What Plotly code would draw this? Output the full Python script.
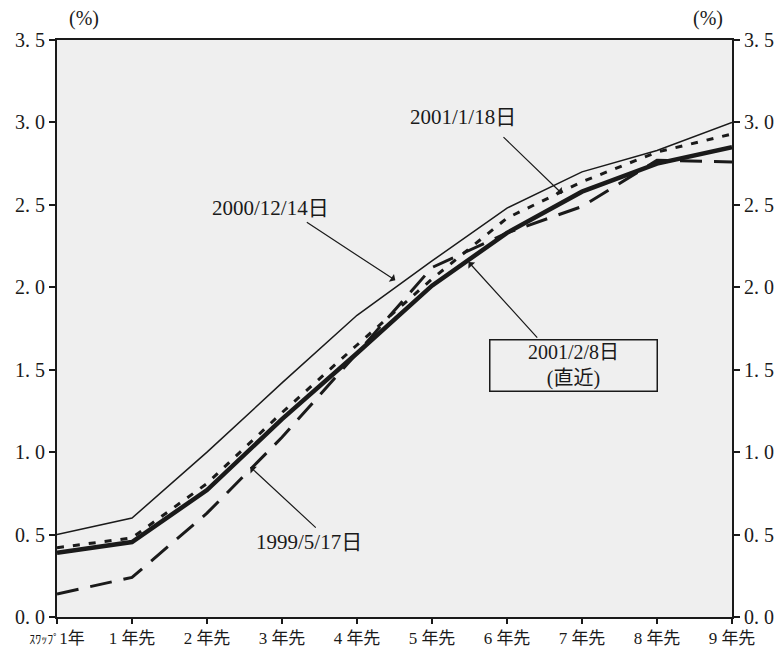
import plotly.graph_objects as go

# ---- data ----
categories = ["ｽﾜｯﾌﾟ1年", "1年先", "2年先", "3年先", "4年先", "5年先", "6年先", "7年先", "8年先", "9年先"]
x_tick_labels = ['<span style="font-size:12px">ｽﾜｯﾌﾟ</span>1年', "1 年先", "2 年先", "3 年先", "4 年先",
                 "5 年先", "6 年先", "7 年先", "8 年先", "9 年先"]
y_tick_values = [0.0, 0.5, 1.0, 1.5, 2.0, 2.5, 3.0, 3.5]
y_tick_labels = ["0. 0", "0. 5", "1. 0", "1. 5", "2. 0", "2. 5", "3. 0", "3. 5"]

s_20001214 = [0.50, 0.60, 1.00, 1.42, 1.83, 2.16, 2.48, 2.70, 2.83, 3.00]
s_20010118 = [0.42, 0.48, 0.81, 1.24, 1.65, 2.05, 2.42, 2.64, 2.82, 2.93]
s_20010208 = [0.39, 0.455, 0.77, 1.20, 1.60, 2.01, 2.33, 2.58, 2.75, 2.85]
s_19990517 = [0.14, 0.24, 0.63, 1.09, 1.60, 2.12, 2.33, 2.49, 2.77, 2.76]

xs = list(range(len(categories)))

FONT = "Liberation Serif, Noto Sans CJK JP, serif"
INK = "#1a1a1a"

fig = go.Figure()
fig.add_trace(go.Scatter(x=xs, y=s_19990517, mode="lines", name="1999/5/17日",
                         line=dict(color=INK, width=3, dash="22px,12px")))
fig.add_trace(go.Scatter(x=xs, y=s_20001214, mode="lines", name="2000/12/14日",
                         line=dict(color=INK, width=1.5)))
fig.add_trace(go.Scatter(x=xs, y=s_20010118, mode="lines", name="2001/1/18日",
                         line=dict(color=INK, width=3, dash="7px,9px")))
fig.add_trace(go.Scatter(x=xs, y=s_20010208, mode="lines", name="2001/2/8日",
                         line=dict(color=INK, width=4.5)))
# invisible trace to anchor right axis
fig.add_trace(go.Scatter(x=[0], y=[0], yaxis="y2", mode="markers",
                         marker=dict(opacity=0), showlegend=False, hoverinfo="skip"))

fig.update_layout(
    width=780, height=655,
    margin=dict(l=57, r=48, t=40, b=38),
    paper_bgcolor="white",
    plot_bgcolor="#efefef",
    showlegend=False,
    font=dict(family=FONT, size=20, color=INK),
    xaxis=dict(range=[0, 9], tickvals=xs, ticktext=x_tick_labels,
               tickfont=dict(size=17, family=FONT, color=INK),
               showgrid=False, zeroline=False, showline=True, linecolor=INK, linewidth=2,
               mirror=True, ticks="outside", ticklen=5, tickcolor=INK, tickwidth=1.5,
               automargin=False),
    yaxis=dict(range=[0, 3.5], tickvals=y_tick_values, ticktext=y_tick_labels,
               tickfont=dict(size=20, family=FONT, color=INK),
               showgrid=False, zeroline=False, showline=True, linecolor=INK, linewidth=2,
               ticks="outside", ticklen=6, tickcolor=INK, tickwidth=1.5, automargin=False),
    yaxis2=dict(range=[0, 3.5], tickvals=y_tick_values, ticktext=y_tick_labels,
                overlaying="y", side="right",
                tickfont=dict(size=20, family=FONT, color=INK),
                showgrid=False, zeroline=False, showline=True, linecolor=INK, linewidth=2,
                ticks="outside", ticklen=6, tickcolor=INK, tickwidth=1.5, automargin=False),
)

ann = []
# unit labels
ann.append(dict(text="(%)", x=0.364, xref="x", yref="paper", y=1.0, yshift=22,
                showarrow=False, xanchor="center", yanchor="middle", font=dict(size=20)))
ann.append(dict(text="(%)", x=8.677, xref="x", yref="paper", y=1.0, yshift=22,
                showarrow=False, xanchor="center", yanchor="middle", font=dict(size=20)))
# text labels
ann.append(dict(text="2000/12/14日", x=2.844, y=2.478, showarrow=False, font=dict(size=21)))
ann.append(dict(text="2001/1/18日", x=5.41, y=3.032, showarrow=False, font=dict(size=21)))
ann.append(dict(text="1999/5/17日", x=3.355, y=0.455, showarrow=False, font=dict(size=21)))
ann.append(dict(text="2001/2/8日<br>(直近)", x=6.88, y=1.525, showarrow=False,
                font=dict(size=20), bordercolor=INK, borderwidth=1.5, width=164, height=48,
                borderpad=1, bgcolor="rgba(0,0,0,0)", align="center"))
# arrows
for hx, hy, ax, ay in [(4.511, 2.042, -90, -59), (6.733, 2.568, -60, -58),
                       (5.488, 2.153, 70, 77), (2.577, 0.910, 67, 62)]:
    ann.append(dict(text="", x=hx, y=hy, ax=ax, ay=ay, showarrow=True,
                    arrowhead=1, arrowsize=1.3, arrowwidth=1.2, arrowcolor=INK))
fig.update_layout(annotations=ann)

fig.write_html("out.html",
               config={"displayModeBar": False},
               post_script="document.body.style.margin='0px';document.body.style.overflow='hidden';")
